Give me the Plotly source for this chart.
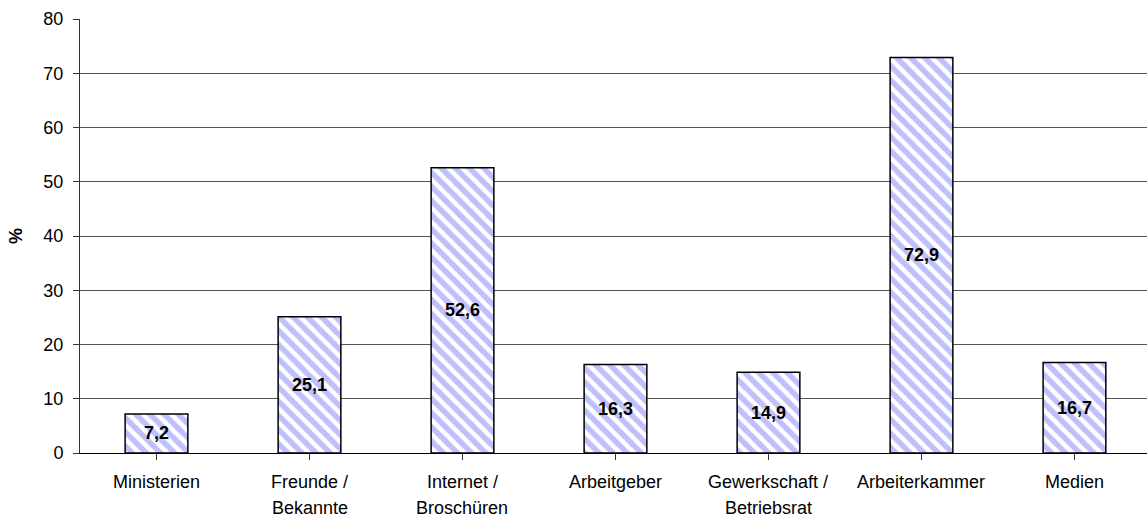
import plotly.graph_objects as go

# Information sources, share of respondents in percent
categories = ["Ministerien", "Freunde /\nBekannte", "Internet /\nBroschüren", "Arbeitgeber",
              "Gewerkschaft /\nBetriebsrat", "Arbeiterkammer", "Medien"]
values = [7.2, 25.1, 52.6, 16.3, 14.9, 72.9, 16.7]
y_ticks = [0, 10, 20, 30, 40, 50, 60, 70, 80]

FONT = "Liberation Sans, Arial, sans-serif"
STRIPE = "#8080FF"

x_pos = list(range(len(categories)))
labels = [f"{v:.1f}".replace(".", ",") for v in values]

fig = go.Figure()
fig.add_trace(go.Bar(
    x=x_pos,
    y=values,
    width=0.41,
    text=labels,
    textposition="inside",
    insidetextanchor="middle",
    textangle=0,
    constraintext="none",
    textfont=dict(family=FONT, size=18, color="black", weight="bold"),
    marker=dict(
        color="white",
        line=dict(color="black", width=1.5),
        pattern=dict(shape="\\", fgcolor=STRIPE, bgcolor="white", size=10, solidity=0.55),
    ),
    hoverinfo="skip",
))

# Category labels below the axis, two lines where needed
annotations = []
for i, cat in enumerate(categories):
    for j, line in enumerate(cat.split("\n")):
        annotations.append(dict(
            x=i, xref="x", y=0, yref="paper",
            yanchor="middle", yshift=-29 - 26 * j,
            text=line, showarrow=False,
            font=dict(family=FONT, size=18, color="black"),
        ))

fig.update_layout(
    width=1147, height=517,
    margin=dict(l=80, r=0, t=19, b=64),
    paper_bgcolor="white", plot_bgcolor="white",
    showlegend=False,
    annotations=annotations,
    font=dict(family=FONT, size=18, color="black"),
    xaxis=dict(
        range=[-0.5, 6.474],
        tickmode="array", tickvals=x_pos, ticktext=[""] * len(x_pos),
        showticklabels=False,
        tickson="boundaries", ticks="outside", ticklen=6, tickcolor="#333",
        showline=True, linecolor="black", linewidth=1,
        showgrid=False, zeroline=False,
    ),
    yaxis=dict(
        range=[0, 80],
        tickmode="array", tickvals=y_ticks,
        ticks="outside", ticklen=6, tickcolor="#333",
        ticklabelstandoff=6,
        tickfont=dict(family=FONT, size=18, color="black"),
        showline=True, linecolor="#333", linewidth=1,
        showgrid=True, gridcolor="#555", gridwidth=1,
        zeroline=False,
        title=dict(text="%", font=dict(family=FONT, size=18, color="black", weight="bold"),
                   standoff=16),
    ),
)

fig.write_html("out.html")
